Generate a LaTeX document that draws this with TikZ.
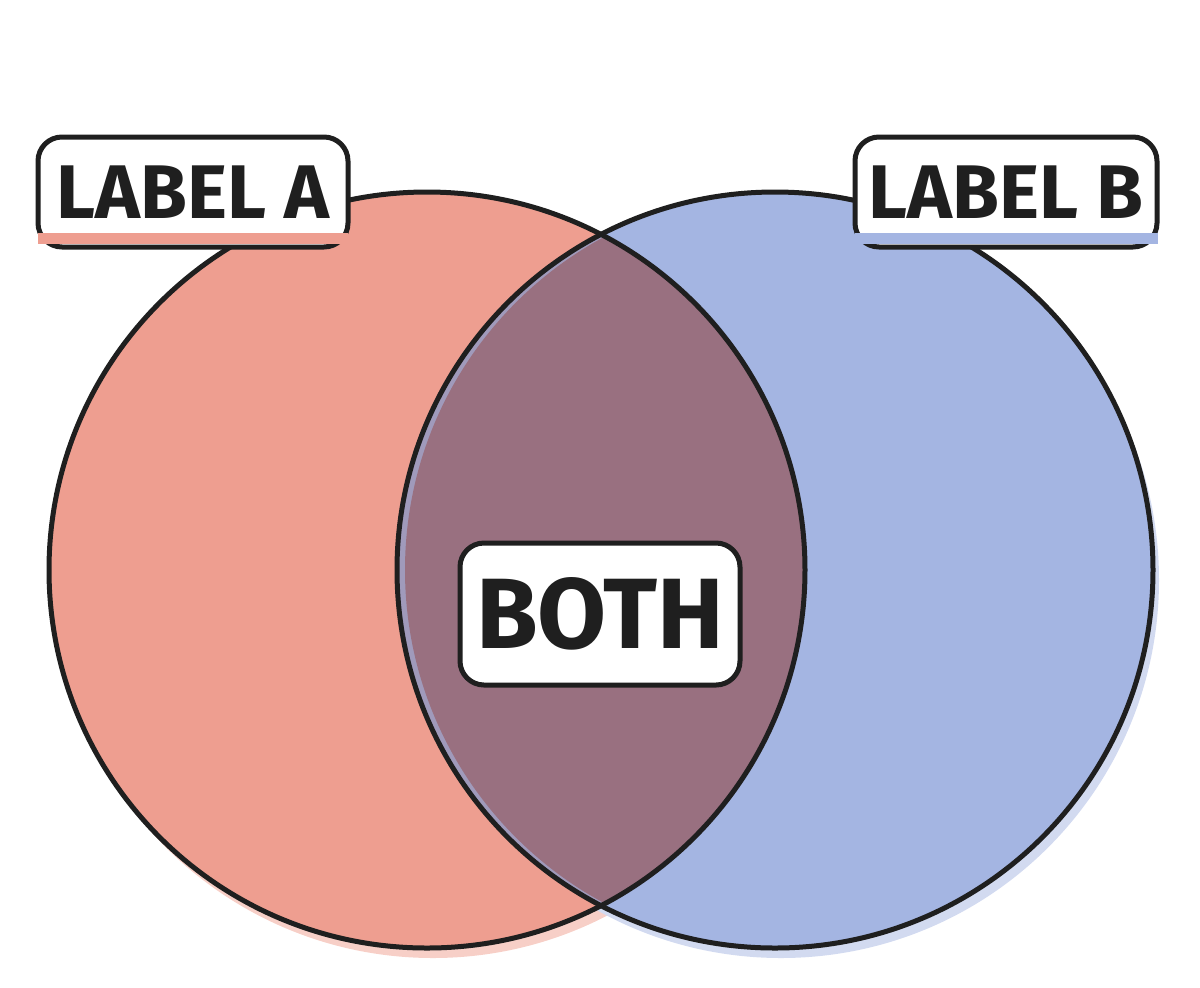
\documentclass[tikz,border=0pt]{standalone}
\usepackage{fontspec}
\setmainfont{Fira Sans}
\begin{document}
\begin{tikzpicture}[x=0.5pt,y=-0.5pt,
  outline/.style={draw=black!88,line width=2.5pt},
  lab/.style={draw=black!88,line width=2.5pt,fill=white,rounded corners=12pt,inner sep=0pt,font=\fontsize{38}{40}\selectfont\bfseries,text=black!88}]
\definecolor{ca}{HTML}{EE9E90}
\definecolor{cb}{HTML}{A4B5E2}
\definecolor{cab}{HTML}{997080}
\useasboundingbox (0,0) rectangle (1200,987);
\fill[ca!50] (433,580) circle (378);
\fill[cb!50] (781,580) circle (378);
\fill[ca] (427,570) circle (378);
\fill[cb] (775,570) circle (378);
\begin{scope}
\clip (427,570) circle (378);
\fill[cb!60!cab] (775,570) circle (378);
\clip (433,575) circle (378);
\fill[cab] (783,570) circle (378);
\end{scope}
\draw[outline] (427,570) circle (378);
\draw[outline] (775,570) circle (378);
\node[lab,minimum width=155pt,minimum height=55pt] (la) at (193,192) {LABEL A};
\node[lab,minimum width=151pt,minimum height=55pt] (lb) at (1006,192) {LABEL B};
\fill[ca] (38,233) rectangle (348,244);
\fill[cb] (855,233) rectangle (1158,244);
\node[lab,minimum width=140pt,minimum height=71pt,font=\fontsize{50}{52}\selectfont\bfseries] (both) at (600,614) {BOTH};
\end{tikzpicture}
\end{document}
